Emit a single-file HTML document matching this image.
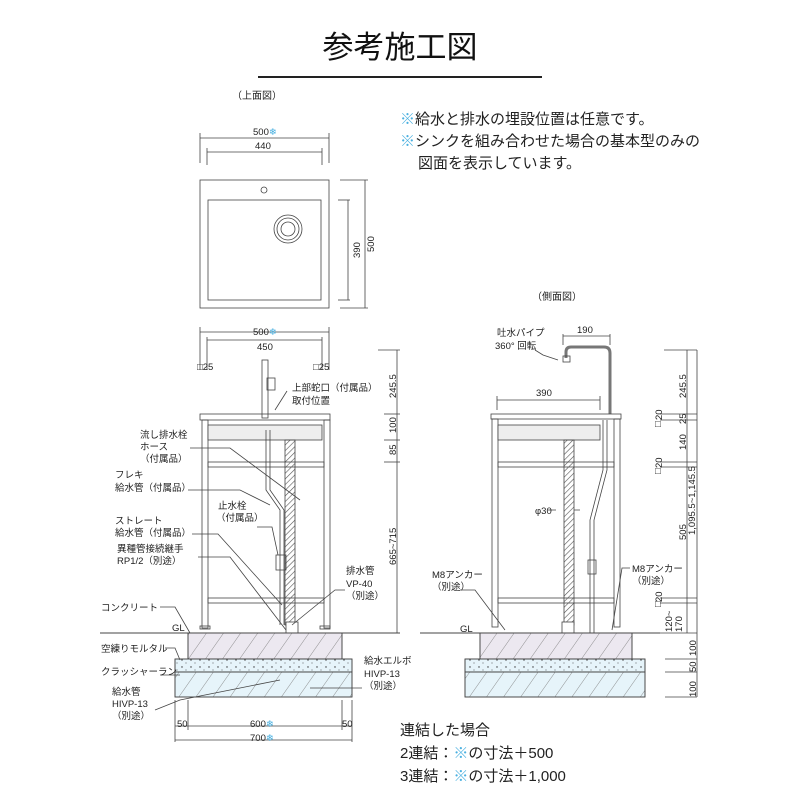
<!DOCTYPE html>
<html><head><meta charset="utf-8"><style>
body{margin:0;background:#fff}
svg text{font-family:"Liberation Sans","Noto Sans CJK JP",sans-serif;fill:#222}
</style></head><body>
<svg width="800" height="800" viewBox="0 0 800 800" xmlns="http://www.w3.org/2000/svg">
<defs>
<pattern id="hat" width="14" height="14" patternUnits="userSpaceOnUse" patternTransform="rotate(35)"><line x1="0" y1="0" x2="0" y2="14" stroke="#777" stroke-width="0.8"/></pattern>
<pattern id="dots" width="9" height="7" patternUnits="userSpaceOnUse"><circle cx="2" cy="2" r="0.7" fill="#333"/><circle cx="6" cy="5" r="0.5" fill="#333"/></pattern>
<pattern id="pipe" width="4" height="4" patternUnits="userSpaceOnUse" patternTransform="rotate(45)"><line x1="0" y1="0" x2="0" y2="4" stroke="#555" stroke-width="1.2"/></pattern>
</defs>
<text x="400" y="58" font-size="31" text-anchor="middle" style="fill:#111">参考施工図</text>
<line x1="258" y1="77" x2="542" y2="77" stroke="#222" stroke-width="2"/>
<g font-size="15">
<text x="400" y="124"><tspan style="fill:#4ab0e0">※</tspan>給水と排水の埋設位置は任意です。</text>
<text x="400" y="146"><tspan style="fill:#4ab0e0">※</tspan>シンクを組み合わせた場合の基本型のみの</text>
<text x="418" y="168">図面を表示しています。</text>
</g>
<g stroke="#444" fill="none" stroke-width="0.8">
<rect x="200" y="180" width="129" height="128"/>
<rect x="208" y="200" width="113" height="100"/>
<circle cx="264" cy="190" r="3"/>
<circle cx="288" cy="229" r="14"/><circle cx="288" cy="229" r="11"/><circle cx="288" cy="229" r="7"/>
<line x1="200" y1="138" x2="329" y2="138"/><line x1="200" y1="133" x2="200" y2="163"/><line x1="329" y1="133" x2="329" y2="163"/>
<line x1="207" y1="152" x2="322" y2="152"/><line x1="207" y1="148" x2="207" y2="165"/><line x1="322" y1="148" x2="322" y2="165"/>
<line x1="365" y1="180" x2="365" y2="308"/><line x1="340" y1="180" x2="368" y2="180"/><line x1="340" y1="308" x2="368" y2="308"/>
<line x1="348" y1="200" x2="348" y2="300"/><line x1="338" y1="200" x2="350" y2="200"/><line x1="338" y1="300" x2="350" y2="300"/>
<line x1="200" y1="332" x2="329" y2="332"/><line x1="200" y1="327" x2="200" y2="370"/><line x1="329" y1="327" x2="329" y2="370"/>
<line x1="207" y1="340" x2="322" y2="340"/><line x1="207" y1="337" x2="207" y2="370"/><line x1="322" y1="337" x2="322" y2="370"/>
<line x1="397" y1="350" x2="397" y2="633"/>
<line x1="378" y1="350" x2="400" y2="350"/><line x1="384" y1="414" x2="400" y2="414"/><line x1="384" y1="440" x2="400" y2="440"/><line x1="384" y1="462" x2="400" y2="462"/><line x1="378" y1="633" x2="400" y2="633"/>
<rect x="200" y="414" width="130" height="6"/>
<rect x="202" y="420" width="6" height="208"/><rect x="324" y="420" width="6" height="208"/>
<rect x="208" y="425" width="114" height="15" fill="#eee"/>
<rect x="208" y="462" width="116" height="5"/><rect x="208" y="598" width="116" height="5"/>
<rect x="200" y="626" width="10" height="3"/><rect x="320" y="626" width="10" height="3"/>
<rect x="285" y="440" width="10" height="185" fill="url(#pipe)"/>
<rect x="262" y="360" width="6" height="58"/><rect x="267" y="378" width="8" height="12"/>
<path d="M266 430 L266 490 L280 510 L280 625"/><path d="M270 430 L270 490 L284 510 L284 625"/>
<rect x="276" y="555" width="10" height="15"/>
<rect x="286" y="622" width="12" height="70" fill="#fff"/>
<line x1="100" y1="633" x2="400" y2="633" stroke-width="1"/>
<rect x="188" y="633" width="154" height="26" fill="#ece8f0"/><rect x="188" y="633" width="154" height="26" fill="url(#hat)"/>
<rect x="175" y="659" width="177" height="13" fill="#e6f4fa"/><rect x="175" y="659" width="177" height="13" fill="url(#dots)"/>
<rect x="175" y="672" width="177" height="25" fill="#e6f4fa"/><rect x="175" y="672" width="177" height="25" fill="url(#hat)"/>
<line x1="175" y1="700" x2="175" y2="742"/><line x1="352" y1="700" x2="352" y2="742"/><line x1="188" y1="700" x2="188" y2="730"/><line x1="342" y1="700" x2="342" y2="730"/>
<line x1="175" y1="726" x2="352" y2="726"/><line x1="175" y1="740" x2="352" y2="740"/>
<path d="M190 448 L230 448 L300 500"/><path d="M188 490 L240 490 L270 505"/><path d="M257 527 L272 527 L278 555"/>
<path d="M192 534 L218 534 L282 605"/><path d="M198 557 L230 557 L286 630"/><path d="M345 590 L335 590 L292 625"/>
<path d="M160 607 L175 607 L190 633"/><path d="M165 648 L175 648 L180 660"/><path d="M160 675 L180 675"/>
<path d="M155 710 L180 700 L280 680"/><path d="M362 688 L310 688"/>
<path d="M287 391 L275 410"/>
<line x1="563" y1="334" x2="563" y2="345"/><line x1="610" y1="334" x2="610" y2="345"/><line x1="563" y1="336" x2="610" y2="336"/>
<line x1="497" y1="396" x2="497" y2="410"/><line x1="600" y1="396" x2="600" y2="410"/><line x1="497" y1="400" x2="600" y2="400"/>
<path d="M566 358 L566 352 Q566 347 571 347 L604 347 Q610 347 610 353 L610 414" stroke-width="3" stroke="#777"/>
<rect x="563" y="356" width="7" height="6"/>
<rect x="491" y="414" width="130" height="5"/>
<rect x="492" y="419" width="6" height="208"/><rect x="614" y="419" width="6" height="208"/>
<rect x="498" y="425" width="102" height="15" fill="#eee"/>
<rect x="498" y="462" width="116" height="5"/><rect x="498" y="598" width="116" height="5"/>
<rect x="564" y="440" width="10" height="185" fill="url(#pipe)"/>
<rect x="562" y="622" width="12" height="70" fill="#fff"/>
<path d="M607 420 L607 470 L594 520 L594 690 M603 420 L603 470 L590 520 L590 690"/>
<rect x="588" y="560" width="8" height="14"/>
<line x1="420" y1="633" x2="660" y2="633" stroke-width="1"/>
<rect x="480" y="633" width="152" height="26" fill="#ece8f0"/><rect x="480" y="633" width="152" height="26" fill="url(#hat)"/>
<rect x="465" y="659" width="180" height="13" fill="#e6f4fa"/><rect x="465" y="659" width="180" height="13" fill="url(#dots)"/>
<rect x="465" y="672" width="180" height="25" fill="#e6f4fa"/><rect x="465" y="672" width="180" height="25" fill="url(#hat)"/>
<line x1="687" y1="350" x2="687" y2="633"/><line x1="664" y1="350" x2="697" y2="350"/><line x1="697" y1="350" x2="697" y2="697"/>
<line x1="660" y1="414" x2="697" y2="414"/><line x1="660" y1="420" x2="697" y2="420"/><line x1="660" y1="462" x2="697" y2="462"/><line x1="660" y1="467" x2="697" y2="467"/>
<line x1="660" y1="598" x2="697" y2="598"/><line x1="660" y1="603" x2="697" y2="603"/><line x1="660" y1="633" x2="697" y2="633"/>
<line x1="665" y1="659" x2="697" y2="659"/><line x1="665" y1="672" x2="697" y2="672"/><line x1="665" y1="697" x2="697" y2="697"/>
<path d="M535 350 L543 355 L558 360"/><path d="M460 590 L475 590 L505 630"/><path d="M630 568 L622 568 L612 630"/>
<path d="M548 510 L556 510 M574 510 L580 510"/>
</g>
<g font-size="9.5">
<text x="232" y="99" font-size="10">（上面図）</text>
<text x="253" y="135">500<tspan style="fill:#4ab0e0">❄</tspan></text>
<text x="255" y="149">440</text>
<text transform="translate(360 258) rotate(-90)">390</text>
<text transform="translate(374 252) rotate(-90)">500</text>
<text x="253" y="335">500<tspan style="fill:#4ab0e0">❄</tspan></text>
<text x="257" y="350">450</text>
<text x="197" y="370">□25</text><text x="313" y="370">□25</text>
<text x="292" y="391">上部蛇口（付属品）</text><text x="292" y="404">取付位置</text>
<text x="140" y="438">流し排水栓</text><text x="140" y="450">ホース</text><text x="140" y="462">（付属品）</text>
<text x="115" y="478">フレキ</text><text x="115" y="491">給水管（付属品）</text>
<text x="218" y="509">止水栓</text><text x="216" y="521">（付属品）</text>
<text x="115" y="524">ストレート</text><text x="115" y="536">給水管（付属品）</text>
<text x="117" y="552">異種管接続継手</text><text x="117" y="564">RP1/2（別途）</text>
<text x="346" y="574">排水管</text><text x="346" y="587">VP-40</text><text x="346" y="599">（別途）</text>
<text x="101" y="611">コンクリート</text><text x="172" y="631">GL</text>
<text x="101" y="652">空練りモルタル</text><text x="101" y="675">クラッシャーラン</text>
<text x="112" y="695">給水管</text><text x="112" y="707">HIVP-13</text><text x="112" y="719">（別途）</text>
<text x="364" y="664">給水エルボ</text><text x="364" y="677">HIVP-13</text><text x="364" y="689">（別途）</text>
<text x="177" y="727">50</text><text x="342" y="727">50</text>
<text x="250" y="727">600<tspan style="fill:#4ab0e0">❄</tspan></text>
<text x="250" y="741">700<tspan style="fill:#4ab0e0">❄</tspan></text>
<text transform="translate(396 398) rotate(-90)">245.5</text>
<text transform="translate(396 433) rotate(-90)">100</text>
<text transform="translate(396 455) rotate(-90)">85</text>
<text transform="translate(396 565) rotate(-90)">665~715</text>
<text x="532" y="300" font-size="10">（側面図）</text>
<text x="497" y="336">吐水パイプ</text><text x="495" y="349">360° 回転</text>
<text x="577" y="333">190</text><text x="536" y="396">390</text>
<text x="535" y="514">φ30</text>
<text x="432" y="578">M8アンカー</text><text x="432" y="590">（別途）</text>
<text x="632" y="572">M8アンカー</text><text x="632" y="584">（別途）</text>
<text x="460" y="632">GL</text>
<text x="655" y="427">□</text><text transform="translate(662 420) rotate(-90)">20</text>
<text x="655" y="474">□</text><text transform="translate(662 468) rotate(-90)">20</text>
<text x="655" y="607">□</text><text transform="translate(662 602) rotate(-90)">20</text>
<text transform="translate(686 398) rotate(-90)">245.5</text>
<text transform="translate(686 424) rotate(-90)">25</text>
<text transform="translate(686 450) rotate(-90)">140</text>
<text transform="translate(686 540) rotate(-90)">505</text>
<text transform="translate(695 535) rotate(-90)">1,095.5~1,145.5</text>
<text transform="translate(672 632) rotate(-90)">120~</text><text transform="translate(682 632) rotate(-90)">170</text>
<text transform="translate(696 656) rotate(-90)">100</text>
<text transform="translate(696 672) rotate(-90)">50</text>
<text transform="translate(696 697) rotate(-90)">100</text>
</g>
<g font-size="15">
<text x="400" y="735">連結した場合</text>
<text x="400" y="758">2連結：<tspan style="fill:#4ab0e0">※</tspan>の寸法＋500</text>
<text x="400" y="781">3連結：<tspan style="fill:#4ab0e0">※</tspan>の寸法＋1,000</text>
</g>
</svg>
</body></html>
